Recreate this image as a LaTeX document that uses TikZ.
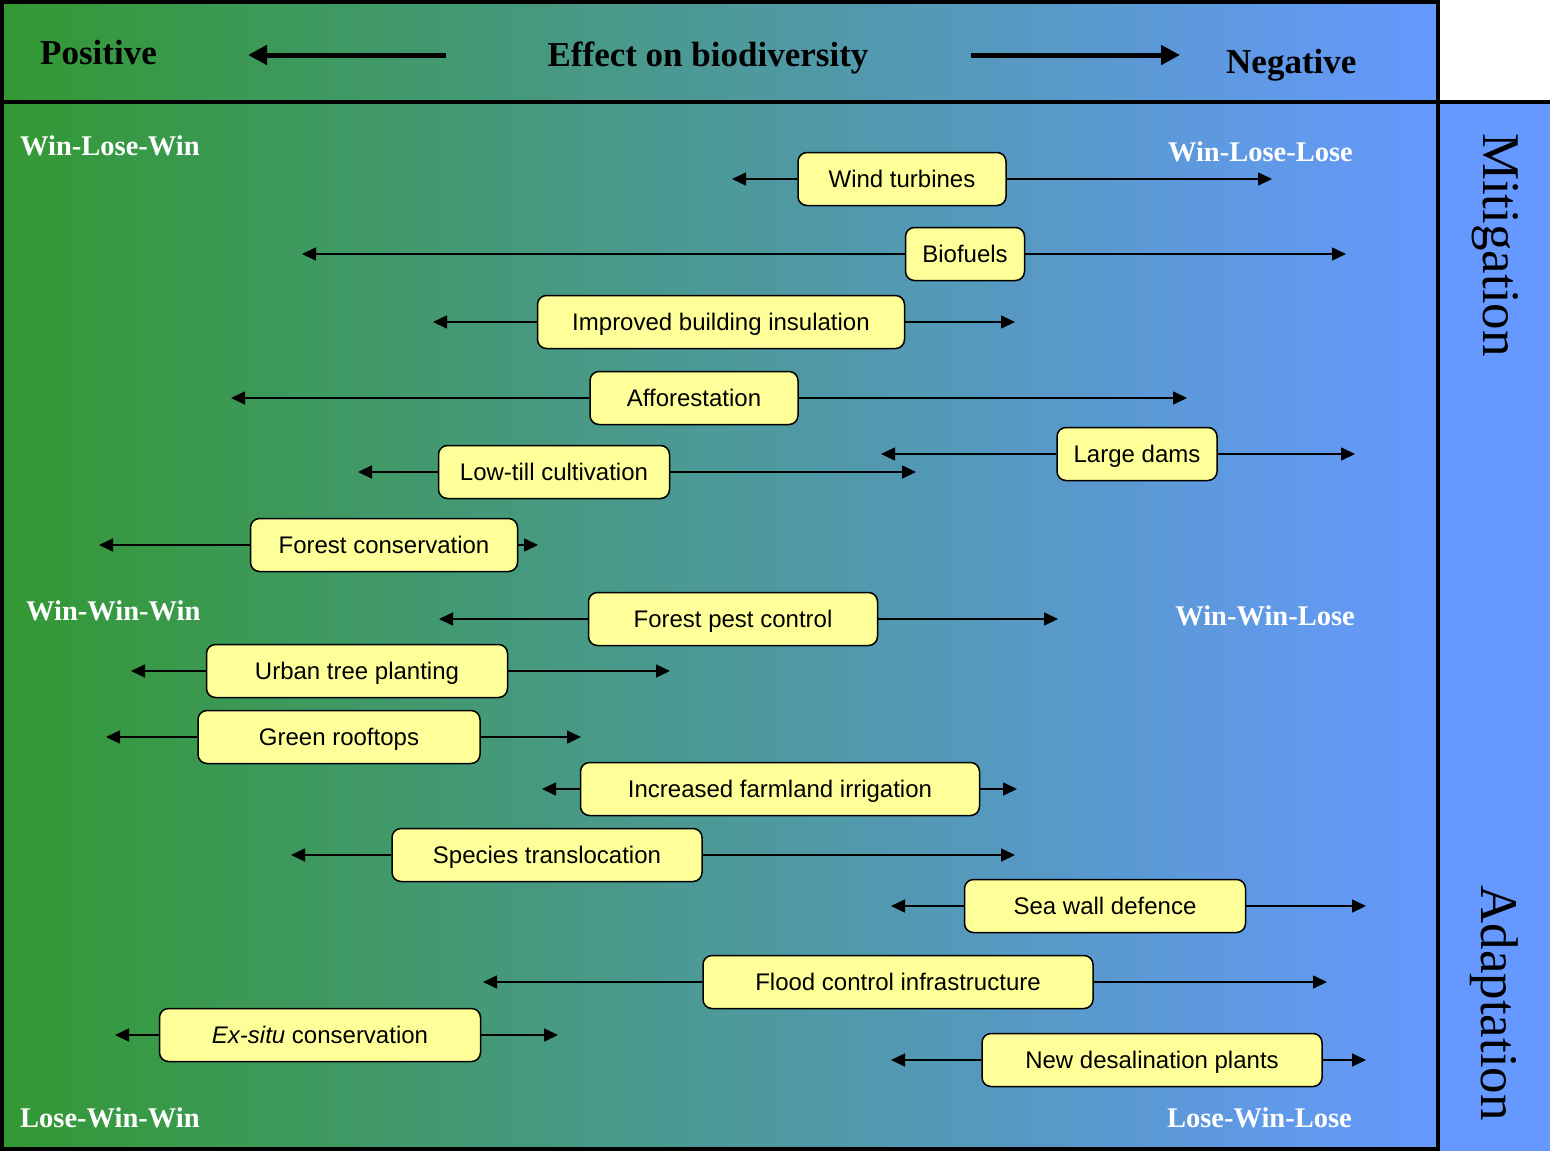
\documentclass[tikz,border=0pt]{standalone}
\usepackage{fontspec}
\setmainfont{Liberation Serif}
\setsansfont{Liberation Sans}
\usetikzlibrary{arrows.meta, positioning}
\definecolor{greenside}{HTML}{339933}
\definecolor{blueside}{HTML}{6699FF}
\definecolor{boxfill}{HTML}{FFFF99}

\begin{document}
\begin{tikzpicture}[x=1pt, y=-1pt,
    box/.style={rectangle, rounded corners=9pt, draw=black, line width=1.5pt, fill=boxfill, minimum height=53pt, inner xsep=0pt, text height=17pt, text depth=0pt, font=\sffamily\fontsize{24}{28}\selectfont, text=black},
    header/.style={inner sep=0pt, font=\bfseries\fontsize{35}{40}\selectfont, text=black},
    corner/.style={inner sep=0pt, font=\bfseries\fontsize{28.5}{32}\selectfont, text=white},
    side/.style={inner sep=0pt, rotate=-90, font=\fontsize{53}{60}\selectfont, text=black},
    frame/.style={line width=4pt, draw=black},
    arr/.style={-{Triangle[length=14pt, width=13pt]}, line width=1.6pt, color=black},
    bigarr/.style={-{Triangle[length=19pt, width=19pt]}, line width=5pt, color=black},
]
    \useasboundingbox (0,0) rectangle (1550,1151);
    % background
    \shade[left color=greenside, right color=blueside] (3,3) rectangle (1438,1149);
    \fill[blueside] (1438,102) rectangle (1552,1153);
    \draw[frame] (2,2) rectangle (1438,1149);
    \draw[frame] (2,102) -- (1552,102);
    \draw[frame] (1438,102) -- (1438,1153);

    % header
    \node[header, anchor=base west] (positive) at (40,64) {Positive};
    \node[header, anchor=base] (effect) at (708,66) {Effect on biodiversity};
    \node[header, anchor=base west] (negative) at (1226,73) {Negative};
    \coordinate (pos-start) at (446,55);
    \coordinate (pos-end) at (248,55);
    \coordinate (neg-start) at (971,55);
    \coordinate (neg-end) at (1180,55);
    \draw[bigarr] (pos-start) -- (pos-end);
    \draw[bigarr] (neg-start) -- (neg-end);

    % side labels
    \node[side] (mitigation) at (1495,245) {Mitigation};
    \node[side] (adaptation) at (1494,1003) {Adaptation};

    % corner labels
    \node[corner, anchor=base west] (wlw) at (20,155) {Win-Lose-Win};
    \node[corner, anchor=base east] (wll) at (1353,161) {Win-Lose-Lose};
    \node[corner, anchor=base west] (www) at (26,620) {Win-Win-Win};
    \node[corner, anchor=base east] (wwl) at (1355,625) {Win-Win-Lose};
    \node[corner, anchor=base west] (lww) at (20,1127) {Lose-Win-Win};
    \node[corner, anchor=base east] (lwl) at (1352,1127) {Lose-Win-Lose};

    % measures
    \node[box, minimum width=208pt] (wind) at (902,179) {Wind turbines};
    \coordinate (wind-pos) at (732,179);
    \coordinate (wind-neg) at (1272,179);
    \node[box, minimum width=119pt] (biofuels) at (965,254) {Biofuels};
    \coordinate (biofuels-pos) at (302,254);
    \coordinate (biofuels-neg) at (1346,254);
    \node[box, minimum width=367pt] (insulation) at (721,322) {Improved building insulation};
    \coordinate (insulation-pos) at (433,322);
    \coordinate (insulation-neg) at (1015,322);
    \node[box, minimum width=208pt] (afforest) at (694,398) {Afforestation};
    \coordinate (afforest-pos) at (231,398);
    \coordinate (afforest-neg) at (1187,398);
    \node[box, minimum width=160pt] (dams) at (1137,454) {Large dams};
    \coordinate (dams-pos) at (881,454);
    \coordinate (dams-neg) at (1355,454);
    \node[box, minimum width=231pt] (lowtill) at (554,472) {Low-till cultivation};
    \coordinate (lowtill-pos) at (358,472);
    \coordinate (lowtill-neg) at (916,472);
    \node[box, minimum width=267pt] (forestcons) at (384,545) {Forest conservation};
    \coordinate (forestcons-pos) at (99,545);
    \coordinate (forestcons-neg) at (538,545);
    \node[box, minimum width=289pt] (pest) at (733,619) {Forest pest control};
    \coordinate (pest-pos) at (439,619);
    \coordinate (pest-neg) at (1058,619);
    \node[box, minimum width=301pt] (urban) at (357,671) {Urban tree planting};
    \coordinate (urban-pos) at (131,671);
    \coordinate (urban-neg) at (670,671);
    \node[box, minimum width=282pt] (rooftops) at (339,737) {Green rooftops};
    \coordinate (rooftops-pos) at (106,737);
    \coordinate (rooftops-neg) at (581,737);
    \node[box, minimum width=399pt] (irrigation) at (780,789) {Increased farmland irrigation};
    \coordinate (irrigation-pos) at (542,789);
    \coordinate (irrigation-neg) at (1017,789);
    \node[box, minimum width=310pt] (transloc) at (547,855) {Species translocation};
    \coordinate (transloc-pos) at (291,855);
    \coordinate (transloc-neg) at (1015,855);
    \node[box, minimum width=281pt] (seawall) at (1105,906) {Sea wall defence};
    \coordinate (seawall-pos) at (891,906);
    \coordinate (seawall-neg) at (1366,906);
    \node[box, minimum width=390pt] (flood) at (898,982) {Flood control infrastructure};
    \coordinate (flood-pos) at (483,982);
    \coordinate (flood-neg) at (1327,982);
    \node[box, minimum width=321pt] (exsitu) at (320,1035) {\textit{Ex-situ} conservation};
    \coordinate (exsitu-pos) at (115,1035);
    \coordinate (exsitu-neg) at (558,1035);
    \node[box, minimum width=340pt] (desal) at (1152,1060) {New desalination plants};
    \coordinate (desal-pos) at (891,1060);
    \coordinate (desal-neg) at (1366,1060);

    % ranges
    \draw[arr] (wind.west) -- (wind-pos);
    \draw[arr] (wind.east) -- (wind-neg);
    \draw[arr] (biofuels.west) -- (biofuels-pos);
    \draw[arr] (biofuels.east) -- (biofuels-neg);
    \draw[arr] (insulation.west) -- (insulation-pos);
    \draw[arr] (insulation.east) -- (insulation-neg);
    \draw[arr] (afforest.west) -- (afforest-pos);
    \draw[arr] (afforest.east) -- (afforest-neg);
    \draw[arr] (dams.west) -- (dams-pos);
    \draw[arr] (dams.east) -- (dams-neg);
    \draw[arr] (lowtill.west) -- (lowtill-pos);
    \draw[arr] (lowtill.east) -- (lowtill-neg);
    \draw[arr] (forestcons.west) -- (forestcons-pos);
    \draw[arr] (forestcons.east) -- (forestcons-neg);
    \draw[arr] (pest.west) -- (pest-pos);
    \draw[arr] (pest.east) -- (pest-neg);
    \draw[arr] (urban.west) -- (urban-pos);
    \draw[arr] (urban.east) -- (urban-neg);
    \draw[arr] (rooftops.west) -- (rooftops-pos);
    \draw[arr] (rooftops.east) -- (rooftops-neg);
    \draw[arr] (irrigation.west) -- (irrigation-pos);
    \draw[arr] (irrigation.east) -- (irrigation-neg);
    \draw[arr] (transloc.west) -- (transloc-pos);
    \draw[arr] (transloc.east) -- (transloc-neg);
    \draw[arr] (seawall.west) -- (seawall-pos);
    \draw[arr] (seawall.east) -- (seawall-neg);
    \draw[arr] (flood.west) -- (flood-pos);
    \draw[arr] (flood.east) -- (flood-neg);
    \draw[arr] (exsitu.west) -- (exsitu-pos);
    \draw[arr] (exsitu.east) -- (exsitu-neg);
    \draw[arr] (desal.west) -- (desal-pos);
    \draw[arr] (desal.east) -- (desal-neg);
\end{tikzpicture}
\end{document}
